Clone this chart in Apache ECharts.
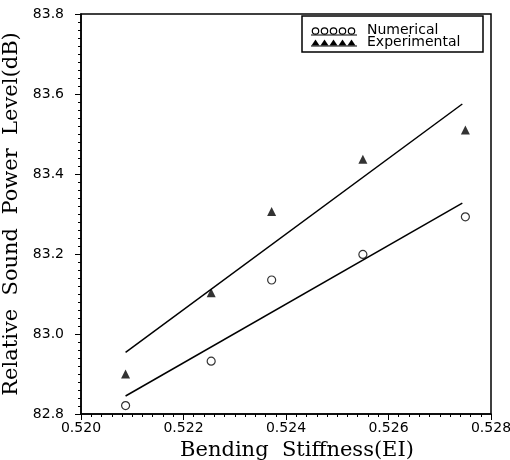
<!DOCTYPE html>
<html>
<head>
<meta charset="utf-8">
<script src="https://cdn.jsdelivr.net/npm/echarts@6/dist/echarts.min.js"></script>
<style>
  html, body { margin: 0; padding: 0; background: #fff; }
  #chart { width: 510px; height: 460px; }
</style>
</head>
<body>
<div id="chart"></div>
<script>
// bending stiffness (EI) of the five test cases
const stiffness = [0.52087, 0.52254, 0.52372, 0.52550, 0.52750]
const numerical = [82.821, 82.932, 83.135, 83.199, 83.293]
const experimental = [82.900, 83.103, 83.306, 83.437, 83.510]
// fitted straight lines (start / end)
const fitX = [0.52087, 0.52744]
const numericalFit = [82.845, 83.327]
const experimentalFit = [82.954, 83.575]
const xTicks = ['0.520', '0.522', '0.524', '0.526', '0.528']
const yTicks = ['82.8', '83.0', '83.2', '83.4', '83.6', '83.8']

const pairs = (xs, ys) => xs.map((x, i) => [x, ys[i]])

const myChart = echarts.init(document.getElementById('chart'), null, { renderer: 'canvas' })

const tickFont = { color: '#000', fontFamily: 'DejaVu Sans', fontSize: 14 }
const titleFont = { color: '#000', fontFamily: 'DejaVu Serif', fontSize: 21 }

const option = {
  animation: false,
  backgroundColor: '#fff',
  grid: {
    left: 81,
    right: 19,
    top: 14,
    bottom: 46,
    show: true,
    borderColor: '#000',
    borderWidth: 1.5,
    containLabel: false,
    outerBoundsMode: 'none'
  },
  xAxis: {
    type: 'value',
    min: 0.520,
    max: 0.528,
    interval: 0.002,
    name: 'Bending  Stiffness(EI)',
    nameLocation: 'middle',
    nameGap: 22,
    nameTextStyle: { ...titleFont, padding: [0, 0, 0, 22] },
    axisLine: { show: true, lineStyle: { color: '#000', width: 1.5 } },
    axisTick: { show: true, inside: false, length: 6, lineStyle: { color: '#000', width: 1 } },
    minorTick: { show: true, splitNumber: 10, length: 3, lineStyle: { color: '#000', width: 1 } },
    splitLine: { show: false },
    axisLabel: {
      ...tickFont,
      margin: 7,
      formatter: (v) => xTicks[Math.round((v - 0.520) / 0.002)] || ''
    }
  },
  yAxis: {
    type: 'value',
    min: 82.8,
    max: 83.8,
    interval: 0.2,
    name: 'Relative  Sound  Power  Level(dB)',
    nameLocation: 'middle',
    nameGap: 48,
    nameTextStyle: titleFont,
    axisLine: { show: true, lineStyle: { color: '#000', width: 1.5 } },
    axisTick: { show: true, inside: false, length: 6, lineStyle: { color: '#000', width: 1 } },
    minorTick: { show: true, splitNumber: 10, length: 3, lineStyle: { color: '#000', width: 1 } },
    splitLine: { show: false },
    axisLabel: {
      ...tickFont,
      margin: 17,
      formatter: (v) => yTicks[Math.round((v - 82.8) / 0.2)] || ''
    }
  },
  series: [
    {
      name: 'Numerical',
      type: 'scatter',
      symbol: 'circle',
      symbolSize: 8,
      itemStyle: { color: '#fff', borderColor: '#000', borderWidth: 1.2 },
      data: pairs(stiffness, numerical)
    },
    {
      name: 'Experimental',
      type: 'scatter',
      symbol: 'triangle',
      symbolSize: 9,
      itemStyle: { color: '#000' },
      data: pairs(stiffness, experimental)
    },
    {
      name: 'Numerical fit',
      type: 'line',
      showSymbol: false,
      lineStyle: { color: '#000', width: 1.5 },
      data: pairs(fitX, numericalFit)
    },
    {
      name: 'Experimental fit',
      type: 'line',
      showSymbol: false,
      lineStyle: { color: '#000', width: 1.5 },
      data: pairs(fitX, experimentalFit)
    }
  ],
  // legend box drawn by hand to get the row of sample symbols
  graphic: [
    {
      type: 'rect',
      shape: { x: 302, y: 16, width: 181, height: 36 },
      style: { fill: '#fff', stroke: '#000', lineWidth: 1.5 }
    },
    {
      type: 'group',
      children: [0, 1, 2, 3, 4].map((i) => ({
        type: 'circle',
        shape: { cx: 315.5 + i * 9, cy: 31, r: 3.2 },
        style: { fill: '#fff', stroke: '#000', lineWidth: 1.2 }
      })).concat([0, 1, 2, 3, 4].map((i) => ({
        type: 'polygon',
        shape: { points: [[315.5 + i * 9, 39.5], [311.5 + i * 9, 45.5], [319.5 + i * 9, 45.5]] },
        style: { fill: '#000' }
      })), [
        { type: 'line', shape: { x1: 311, y1: 35, x2: 357, y2: 35 }, style: { stroke: '#000', lineWidth: 1 } },
        { type: 'line', shape: { x1: 311, y1: 46, x2: 357, y2: 46 }, style: { stroke: '#000', lineWidth: 1 } }
      ])
    },
    {
      type: 'text',
      left: 367,
      top: 23,
      style: { text: 'Numerical', fill: '#000', font: '14px "DejaVu Sans"' }
    },
    {
      type: 'text',
      left: 367,
      top: 35,
      style: { text: 'Experimental', fill: '#000', font: '14px "DejaVu Sans"' }
    }
  ]
}

myChart.setOption(option)
</script>
</body>
</html>
